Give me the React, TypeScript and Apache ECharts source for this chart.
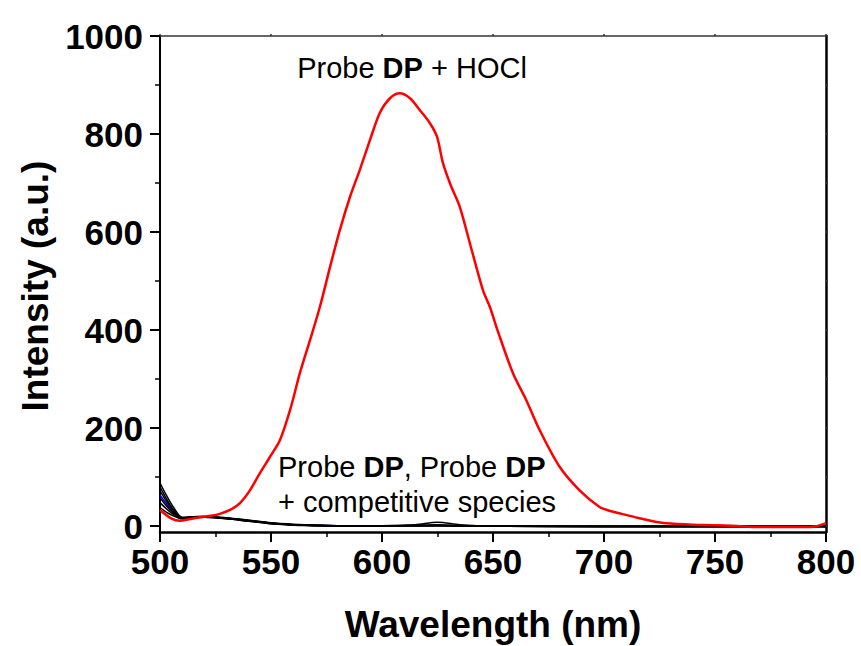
import React, { useEffect, useRef } from "react";
import * as echarts from "echarts";

const FONT = "'Liberation Sans', Arial, Helvetica, sans-serif";

const xTicks = [500, 550, 600, 650, 700, 750, 800];
const yTickLabels = [0, 200, 400, 600, 800, 1000];
const yMinorTicks = [100, 300, 500, 700, 900];

// Probe DP + HOCl (red)
const redWl = [500, 505, 509, 513, 518, 523, 527, 532, 536, 540.5, 545, 549.5, 554, 558.6, 563, 567.6, 572, 576.6, 581, 585.6, 590, 594.6, 599, 603.6, 608, 612.6, 617, 621.6, 624.8, 627.5, 631, 635, 640, 645.5, 648.6, 652, 659, 665, 671, 680, 689, 698, 702, 708, 716, 722, 728, 740, 749, 760, 769, 780, 793, 800];
const redVal = [33, 16, 11, 14, 18, 21, 25, 34, 47, 73, 108, 141, 175, 237, 312, 380, 447, 529, 604, 672, 727, 788, 843, 873, 883, 873, 849, 822, 794, 740, 695, 652, 570, 481, 447, 400, 312, 257, 196, 121, 73, 39, 32, 25, 16, 10, 6, 3, 2, 0, -2, -2, -2, 6];

// Probe DP and probe DP + competitive species
const compWl = [500, 503, 506, 510, 515, 520, 530, 540, 550, 560, 570, 580, 600, 615, 625, 635, 650, 700, 750, 800];
const black1 = [88, 62, 39, 18, 19, 19, 16, 12, 7, 4, 2, 1, 1, 2, 3, 1, 0, -1, -1, -1];
const black2 = [80, 55, 34, 17, 19, 20, 17, 12, 6, 3, 2, 1, 1, 3, 8, 3, 0, -1, -1, -1];
const black3 = [72, 50, 31, 16, 18, 19, 16, 11, 6, 3, 1, 1, 0, 1, 2, 1, 0, -1, -1, -1];
const black4 = [58, 41, 27, 16, 18, 18, 15, 10, 5, 2, 1, 0, 0, 1, 1, 0, 0, -1, -1, -1];
const black5 = [48, 35, 24, 15, 17, 18, 15, 10, 5, 3, 1, 0, 0, 1, 1, 0, 0, -1, -1, -1];
const black6 = [38, 28, 21, 15, 17, 18, 16, 11, 6, 3, 2, 1, 0, 1, 1, 0, 0, -1, -1, -1];
const blue1 = [63, 45, 29, 16, 18, 19, 16, 11, 6, 3, 2, 1, 1, 1, 2, 1, 0, 0, 0, 0];

const pairs = (xs: number[], ys: number[]) => xs.map((x, i) => [x, ys[i]]);

export default function App() {
  const ref = useRef<HTMLDivElement>(null);
  useEffect(() => {
    if (!ref.current) return;
    const chart = echarts.init(ref.current, null, { renderer: "svg" });
    const blackLine = (name: string, vals: number[]) => ({
      name,
      type: "line",
      data: pairs(compWl, vals),
      showSymbol: false,
      smooth: 0.3,
      lineStyle: { color: "#000", width: 1.5 },
      z: 3,
    });
    const rich = {
      r: { fontSize: 29, fontFamily: FONT, fill: "#000" },
      b: { fontSize: 29, fontFamily: FONT, fontWeight: "bold", fill: "#000" },
    };
    chart.setOption({
      animation: false,
      backgroundColor: "#fff",
      grid: { left: 160, right: 35, top: 36, bottom: 114 },
      xAxis: [
        {
          type: "value",
          min: 500,
          max: 800,
          interval: 50,
          position: "bottom",
          axisLine: { show: true, onZero: false, lineStyle: { color: "#000", width: 2.5 } },
          axisTick: { show: true, length: 10, lineStyle: { color: "#000", width: 2 } },
          minorTick: { show: true, splitNumber: 2, length: 5, lineStyle: { color: "#000", width: 1.5 } },
          axisLabel: {
            customValues: xTicks,
            formatter: (v: number) => String(v),
            fontSize: 35,
            fontWeight: "bold",
            fontFamily: FONT,
            color: "#000",
            margin: 12,
          },
          splitLine: { show: false },
          minorSplitLine: { show: false },
        },
        {
          type: "value",
          min: 500,
          max: 800,
          interval: 50,
          position: "top",
          axisLine: { show: true, onZero: false, lineStyle: { color: "#333", width: 1.5 } },
          axisTick: { show: true, length: 2, lineStyle: { color: "#333", width: 1.5 } },
          axisLabel: { show: false },
          splitLine: { show: false },
        },
      ],
      yAxis: [
        {
          type: "value",
          min: -12,
          max: 1000,
          position: "left",
          axisLine: { show: true, onZero: false, lineStyle: { color: "#000", width: 2 } },
          axisTick: { show: true, length: 10, customValues: yTickLabels, lineStyle: { color: "#000", width: 2 } },
          axisLabel: {
            customValues: yTickLabels,
            formatter: (v: number) => String(v),
            fontSize: 35,
            fontWeight: "bold",
            fontFamily: FONT,
            color: "#000",
            margin: 17,
          },
          splitLine: { show: false },
        },
        {
          type: "value",
          min: -12,
          max: 1000,
          position: "left",
          offset: 0,
          axisLine: { show: false, onZero: false },
          axisTick: { show: true, length: 5, customValues: yMinorTicks, lineStyle: { color: "#000", width: 1.5 } },
          axisLabel: { show: false },
          splitLine: { show: false },
        },
        {
          type: "value",
          min: -12,
          max: 1000,
          position: "right",
          axisLine: { show: true, onZero: false, lineStyle: { color: "#000", width: 2.5 } },
          axisTick: {
            show: true,
            length: 2,
            customValues: [0, 100, 200, 300, 400, 500, 600, 700, 800, 900, 1000],
            lineStyle: { color: "#333", width: 1.5 },
          },
          axisLabel: { show: false },
          splitLine: { show: false },
        },
      ],
      series: [
        {
          name: "Probe DP + competitive species (blue)",
          type: "line",
          data: pairs(compWl, blue1),
          showSymbol: false,
          smooth: 0.3,
          lineStyle: { color: "#0000ff", width: 1.5 },
          z: 2,
        },
        blackLine("c1", black1),
        blackLine("c2", black2),
        blackLine("c3", black3),
        blackLine("c4", black4),
        blackLine("c5", black5),
        blackLine("c6", black6),
        {
          name: "Probe DP + HOCl",
          type: "line",
          data: pairs(redWl, redVal),
          showSymbol: false,
          smooth: 0.3,
          lineStyle: { color: "#ff0000", width: 2.5 },
          z: 4,
        },
      ],
      graphic: [
        {
          type: "text",
          x: 412,
          y: 68,
          style: {
            text: "{r|Probe }{b|DP}{r| + HOCl}",
            rich,
            align: "center",
            verticalAlign: "middle",
          },
          z: 10,
        },
        {
          type: "text",
          x: 278,
          y: 467,
          style: {
            text: "{r|Probe }{b|DP}{r|, Probe }{b|DP}",
            rich,
            align: "left",
            verticalAlign: "middle",
          },
          z: 10,
        },
        {
          type: "text",
          x: 278,
          y: 502,
          style: {
            text: "{r|+ competitive species}",
            rich,
            align: "left",
            verticalAlign: "middle",
          },
          z: 10,
        },
        {
          type: "text",
          x: 493,
          y: 624,
          style: {
            text: "Wavelength (nm)",
            font: `bold 37px ${FONT}`,
            fill: "#000",
            align: "center",
            verticalAlign: "middle",
          },
        },
        {
          type: "text",
          x: 35,
          y: 286,
          rotation: Math.PI / 2,
          style: {
            text: "Intensity (a.u.)",
            font: `bold 37px ${FONT}`,
            fill: "#000",
            align: "center",
            verticalAlign: "middle",
          },
        },
      ],
    });
    return () => chart.dispose();
  }, []);
  return (
    <div
      ref={ref}
      style={{ position: "fixed", left: 0, top: 0, width: 861, height: 646, background: "#fff" }}
    />
  );
}
